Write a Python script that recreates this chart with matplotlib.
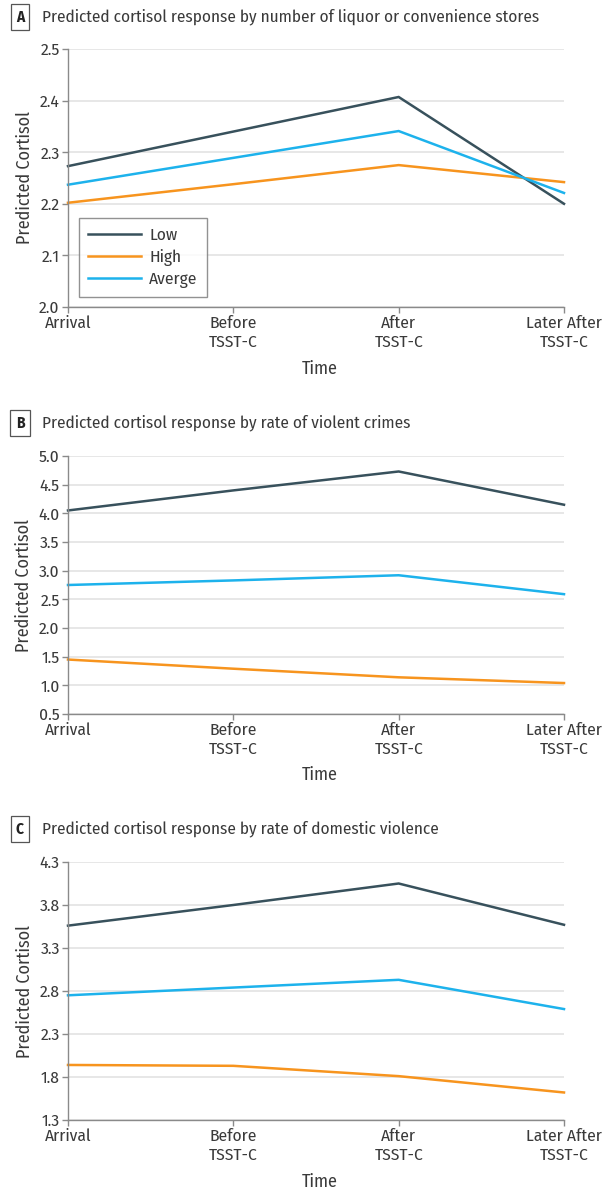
import matplotlib
matplotlib.use("Agg")
import matplotlib.pyplot as plt

plt.rcParams['font.family'] = ['Fira Sans Condensed', 'DejaVu Sans']

time_labels = ["Arrival", "Before\nTSST-C", "After\nTSST-C", "Later After\nTSST-C"]
series_names = ["Low", "High", "Averge"]

a_low = [2.273, 2.340, 2.407, 2.200]
a_high = [2.202, 2.238, 2.275, 2.242]
a_avg = [2.237, 2.289, 2.341, 2.221]

b_low = [4.05, 4.40, 4.73, 4.15]
b_high = [1.45, 1.29, 1.14, 1.04]
b_avg = [2.75, 2.83, 2.92, 2.59]

c_low = [3.56, 3.80, 4.05, 3.57]
c_high = [1.94, 1.93, 1.81, 1.62]
c_avg = [2.75, 2.84, 2.93, 2.59]

a_ticks = [2.0, 2.1, 2.2, 2.3, 2.4, 2.5]
b_ticks = [0.5, 1.0, 1.5, 2.0, 2.5, 3.0, 3.5, 4.0, 4.5, 5.0]
c_ticks = [1.3, 1.8, 2.3, 2.8, 3.3, 3.8, 4.3]

titles = ["Predicted cortisol response by number of liquor or convenience stores",
          "Predicted cortisol response by rate of violent crimes",
          "Predicted cortisol response by rate of domestic violence"]
letters = ["A", "B", "C"]

colors = ["#38515c", "#f7941e", "#1db2ec"]
text_col = "#3a3a3a"
axis_col = "#8a8a8a"
grid_col = "#e3e3e3"

W, H = 602, 1195
fig = plt.figure(figsize=(W / 100, H / 100), dpi=100)

panels = [
    (49, 307, 17, 369, [a_low, a_high, a_avg], a_ticks, "{:.1f}"),
    (456, 714, 423, 775, [b_low, b_high, b_avg], b_ticks, "{:.1f}"),
    (862, 1120, 829, 1182, [c_low, c_high, c_avg], c_ticks, "{:.1f}"),
]

x_left, x_right = 68, 564
xs = list(range(len(time_labels)))

for i, (ytop, ybot, ytitle, ytime, data, yt, fmt) in enumerate(panels):
    ax = fig.add_axes([x_left / W, 1 - ybot / H, (x_right - x_left) / W, (ybot - ytop) / H])
    for vals, name, col in zip(data, series_names, colors):
        ax.plot(xs, vals, color=col, lw=1.8, label=name, solid_joinstyle='miter', clip_on=False)
    ax.set_xlim(0, 3)
    ax.set_ylim(yt[0], yt[-1])
    ax.set_yticks(yt)
    ax.set_yticklabels([fmt.format(v) for v in yt])
    ax.set_xticks(xs)
    ax.set_xticklabels(time_labels, linespacing=1.25)
    ax.yaxis.grid(True, color=grid_col, lw=1.2)
    ax.set_axisbelow(True)
    for s in ["top", "right"]:
        ax.spines[s].set_visible(False)
    for s in ["left", "bottom"]:
        ax.spines[s].set_color(axis_col)
        ax.spines[s].set_linewidth(1.0)
    ax.tick_params(axis='both', colors=axis_col, labelcolor=text_col, labelsize=12.5,
                   length=4, width=1.0, pad=2)
    ax.set_ylabel("Predicted Cortisol", color=text_col, fontsize=13, labelpad=4)
    fig.text(((x_left + x_right) / 2 + 4) / W, 1 - ytime / H, "Time", ha='center', va='center',
             color=text_col, fontsize=13)
    # panel letter box and title
    fig.text(20 / W, 1 - ytitle / H, letters[i], ha='center', va='center', fontsize=11,
             fontweight='bold', color='#222222',
             bbox=dict(boxstyle='square,pad=0.35', fc='white', ec='#555555', lw=0.9))
    fig.text(42 / W, 1 - ytitle / H, titles[i], ha='left', va='center', fontsize=12.3,
             color=text_col)
    if i == 0:
        leg = ax.legend(loc='upper left', bbox_to_anchor=(0.022, 0.345), frameon=True,
                        fancybox=False, edgecolor='#777777', fontsize=12.5,
                        handlelength=3.0, borderpad=0.55, labelspacing=0.3,
                        handletextpad=0.5, borderaxespad=0.0)
        leg.get_frame().set_linewidth(1.0)
        for t in leg.get_texts():
            t.set_color(text_col)

fig.savefig("out.png", dpi=100, facecolor='white')
